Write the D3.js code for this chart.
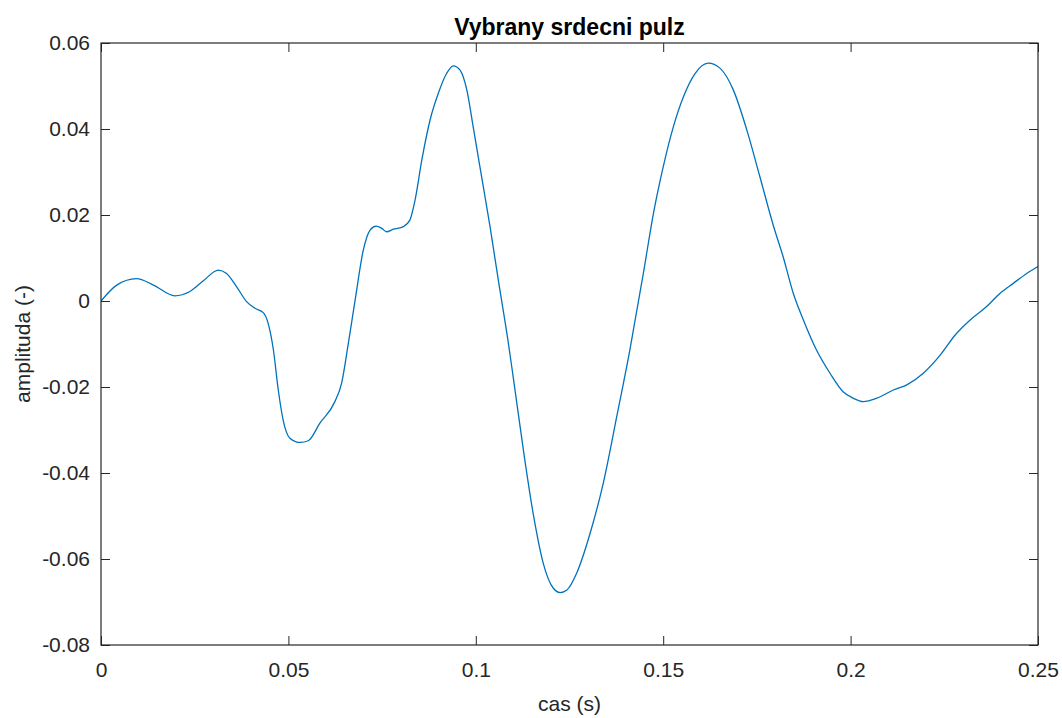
<!DOCTYPE html>
<html>
<head>
<meta charset="utf-8">
<script src="https://cdn.jsdelivr.net/npm/d3@7"></script>
<style>
  html, body { margin: 0; padding: 0; background: #fff; }
  svg { display: block; font-family: "Liberation Sans", Arial, Helvetica, sans-serif; }
</style>
</head>
<body>
<svg id="chart" width="1062" height="718"></svg>
<script>
// ---- data ----
const titleText = "Vybrany srdecni pulz";
const xLabelText = "cas (s)";
const yLabelText = "amplituda (-)";
const xTicks = [0, 0.05, 0.1, 0.15, 0.2, 0.25];
const xTickLabels = ["0", "0.05", "0.1", "0.15", "0.2", "0.25"];
const yTicks = [-0.08, -0.06, -0.04, -0.02, 0, 0.02, 0.04, 0.06];
const yTickLabels = ["-0.08", "-0.06", "-0.04", "-0.02", "0", "0.02", "0.04", "0.06"];
const time = [
  0, 0.0042, 0.0095, 0.014, 0.0197, 0.0237, 0.0273, 0.0313, 0.0335, 0.0362,
  0.0389, 0.0411, 0.0433, 0.0446, 0.046, 0.0473, 0.0486, 0.0504, 0.0531, 0.0553,
  0.0584, 0.0624, 0.0642, 0.066, 0.0678, 0.07, 0.0718, 0.0734, 0.0749, 0.0762,
  0.078, 0.0807, 0.0824, 0.0838, 0.0856, 0.0878, 0.09, 0.0922, 0.094, 0.0958,
  0.0976, 0.0993, 0.1011, 0.1038, 0.106, 0.1085, 0.11, 0.1127, 0.1153, 0.118,
  0.1207, 0.1225, 0.1243, 0.1269, 0.1305, 0.134, 0.1376, 0.1411, 0.1447,
  0.1474, 0.15, 0.1527, 0.1554, 0.1585, 0.162, 0.1652, 0.1687, 0.1723, 0.1758,
  0.1794, 0.182, 0.1847, 0.1874, 0.1909, 0.1945, 0.198, 0.2007, 0.2034, 0.207,
  0.2114, 0.215, 0.2194, 0.2239, 0.2279, 0.2319, 0.2363, 0.2399, 0.2434, 0.247,
  0.25
];
const amplitude = [
  0, 0.0037, 0.0052, 0.0037, 0.0012, 0.0022, 0.0047, 0.0072, 0.0064, 0.0033,
  -0.0002, -0.0017, -0.0027, -0.0052, -0.0114, -0.0207, -0.0277, -0.0319, -0.0329, -0.0325,
  -0.0284, -0.0234, -0.0191, -0.0098, 0.0002, 0.0119, 0.0165, 0.0174, 0.0169, 0.0161,
  0.0167, 0.0173, 0.0188, 0.0235, 0.0328, 0.0421, 0.0483, 0.0529, 0.0547, 0.0537,
  0.0491, 0.0405, 0.0312, 0.0173, 0.0049, -0.0087, -0.0178, -0.0347, -0.0494, -0.061,
  -0.0668, -0.0678, -0.0672, -0.0633, -0.054, -0.0424, -0.0269, -0.0114, 0.0064,
  0.0204, 0.0312, 0.0405, 0.0475, 0.0529, 0.0553, 0.0541, 0.0491, 0.0398, 0.0289,
  0.0175, 0.0103, 0.0018, -0.0044, -0.0114, -0.0168, -0.0211, -0.0226, -0.0234, -0.0226,
  -0.0207, -0.0195, -0.0168, -0.0126, -0.0079, -0.0044, -0.0013, 0.0018, 0.0041, 0.0064,
  0.008
];

// ---- layout ----
const L = 101, R = 1038, T = 43, B = 645;
const axisColor = "#262626";
const lineColor = "#0072BD";
const fontSize = 21;
const tickLen = 9;

const svg = d3.select("#chart");
const x = d3.scaleLinear().domain([0, 0.25]).range([L, R]);
const y = d3.scaleLinear().domain([-0.08, 0.06]).range([B, T]);

// data line (clipped to axes)
svg.append("clipPath").attr("id", "clip")
  .append("rect").attr("x", L).attr("y", T).attr("width", R - L).attr("height", B - T);

const pts = time.map((t, i) => [t, amplitude[i]]);
svg.append("path")
  .datum(pts)
  .attr("clip-path", "url(#clip)")
  .attr("fill", "none")
  .attr("stroke", lineColor)
  .attr("stroke-width", 1.3)
  .attr("stroke-linejoin", "round")
  .attr("d", d3.line().x(d => x(d[0])).y(d => y(d[1])).curve(d3.curveMonotoneX));

// axes via d3 axis generators
function styleAxis(g) {
  g.select(".domain").remove();
  g.selectAll(".tick line").attr("stroke", axisColor).attr("stroke-width", 1);
  g.selectAll(".tick text").attr("fill", axisColor)
    .style("font-size", fontSize + "px")
    .style("font-family", "'Liberation Sans', Arial, sans-serif");
}

// bottom
svg.append("g").attr("transform", `translate(0,${B})`)
  .call(d3.axisBottom(x).tickValues(xTicks).tickFormat((d, i) => xTickLabels[i])
    .tickSizeInner(-tickLen).tickSizeOuter(0).tickPadding(17))
  .call(styleAxis);
// top (ticks only)
svg.append("g").attr("transform", `translate(0,${T})`)
  .call(d3.axisTop(x).tickValues(xTicks).tickFormat("")
    .tickSizeInner(-tickLen).tickSizeOuter(0))
  .call(styleAxis);
// left
svg.append("g").attr("transform", `translate(${L},0)`)
  .call(d3.axisLeft(y).tickValues(yTicks).tickFormat((d, i) => yTickLabels[i])
    .tickSizeInner(-tickLen).tickSizeOuter(0).tickPadding(11))
  .call(styleAxis);
// right (ticks only)
svg.append("g").attr("transform", `translate(${R},0)`)
  .call(d3.axisRight(y).tickValues(yTicks).tickFormat("")
    .tickSizeInner(-tickLen).tickSizeOuter(0))
  .call(styleAxis);

// box
svg.append("rect")
  .attr("x", L).attr("y", T).attr("width", R - L).attr("height", B - T)
  .attr("fill", "none").attr("stroke", axisColor).attr("stroke-width", 1.2);

// title
svg.append("text")
  .attr("x", (L + R) / 2).attr("y", 35)
  .attr("text-anchor", "middle")
  .attr("fill", "#000")
  .style("font-size", "23px").style("font-weight", "bold")
  .text(titleText);

// x label
svg.append("text")
  .attr("x", (L + R) / 2).attr("y", 711)
  .attr("text-anchor", "middle")
  .attr("fill", axisColor)
  .style("font-size", fontSize + "px")
  .text(xLabelText);

// y label
svg.append("text")
  .attr("transform", `translate(30,${(T + B) / 2}) rotate(-90)`)
  .attr("text-anchor", "middle")
  .attr("fill", axisColor)
  .style("font-size", fontSize + "px")
  .text(yLabelText);
</script>
</body>
</html>
